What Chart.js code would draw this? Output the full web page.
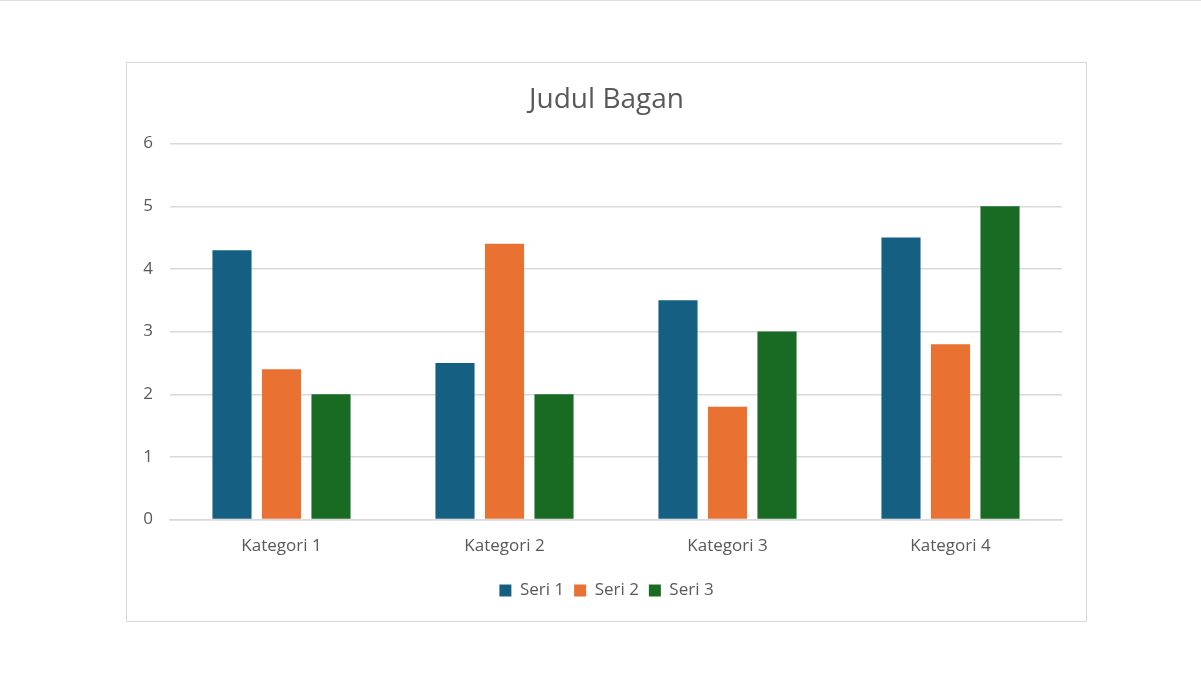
<!DOCTYPE html>
<html>
<head>
<meta charset="utf-8">
<script src="https://cdn.jsdelivr.net/npm/chart.js@4.4.1/dist/chart.umd.min.js"></script>
<style>
html,body{margin:0;padding:0;background:#fff;width:1201px;height:674px;overflow:hidden;}
#topline{position:absolute;left:0;top:0;width:1201px;height:1px;background:#e0e0e0;}
#box{position:absolute;left:126px;top:62px;width:959px;height:558px;border:1px solid #d9d9d9;}
#wrap{position:absolute;left:0;top:0;width:959px;height:558px;}
</style>
</head>
<body>
<div id="topline"></div>
<div id="box"><div id="wrap"><canvas id="c" width="959" height="558"></canvas></div></div>
<script>
const categories = ["Kategori 1", "Kategori 2", "Kategori 3", "Kategori 4"];
const seriesNames = ["Seri 1", "Seri 2", "Seri 3"];
const seri1 = [4.3, 2.5, 3.5, 4.5];
const seri2 = [2.4, 4.4, 1.8, 2.8];
const seri3 = [2, 2, 3, 5];
const yTicks = [0, 1, 2, 3, 4, 5, 6];
const colors = ["#156082", "#E97132", "#196B24"];

const FONT = "'Open Sans', 'Noto Sans', sans-serif";
const TXT = "#595959";

new Chart(document.getElementById('c'), {
  type: 'bar',
  data: {
    labels: categories,
    datasets: [seri1, seri2, seri3].map((d, i) => ({
      label: seriesNames[i],
      data: d,
      backgroundColor: colors[i],
      borderWidth: 0,
      categoryPercentage: 0.666,
      barPercentage: 0.79
    }))
  },
  options: {
    responsive: false,
    animation: false,
    devicePixelRatio: 1,
    layout: { padding: { top: 20, right: 0, left: 0, bottom: 12 } },
    plugins: {
      title: {
        display: true,
        text: 'Judul Bagan',
        color: TXT,
        font: { family: FONT, size: 28, weight: 'normal' },
        padding: { top: 0, bottom: 27 }
      },
      legend: {
        position: 'bottom',
        labels: {
          color: TXT,
          font: { family: FONT, size: 17 },
          boxWidth: 12,
          boxHeight: 12,
          padding: 10
        }
      },
      tooltip: { enabled: false }
    },
    scales: {
      x: {
        grid: { display: false, drawTicks: false },
        border: { display: true, color: '#d9d9d9', width: 1.5 },
        ticks: { color: TXT, font: { family: FONT, size: 17 }, padding: 16 }
      },
      y: {
        min: 0,
        max: 6,
        afterBuildTicks: (s) => { s.ticks = yTicks.map(v => ({ value: v })); },
        afterFit: (s) => { s.width = 43; },
        grid: { color: '#d9d9d9', lineWidth: 1.5, drawTicks: false },
        border: { display: false },
        ticks: { color: TXT, font: { family: FONT, size: 17 }, padding: 17 }
      },
      yRight: {
        position: 'right',
        display: true,
        min: 0,
        max: 6,
        afterFit: (s) => { s.width = 24; },
        grid: { display: false, drawTicks: false },
        border: { display: false },
        ticks: { display: false }
      }
    }
  }
});
</script>
</body>
</html>
